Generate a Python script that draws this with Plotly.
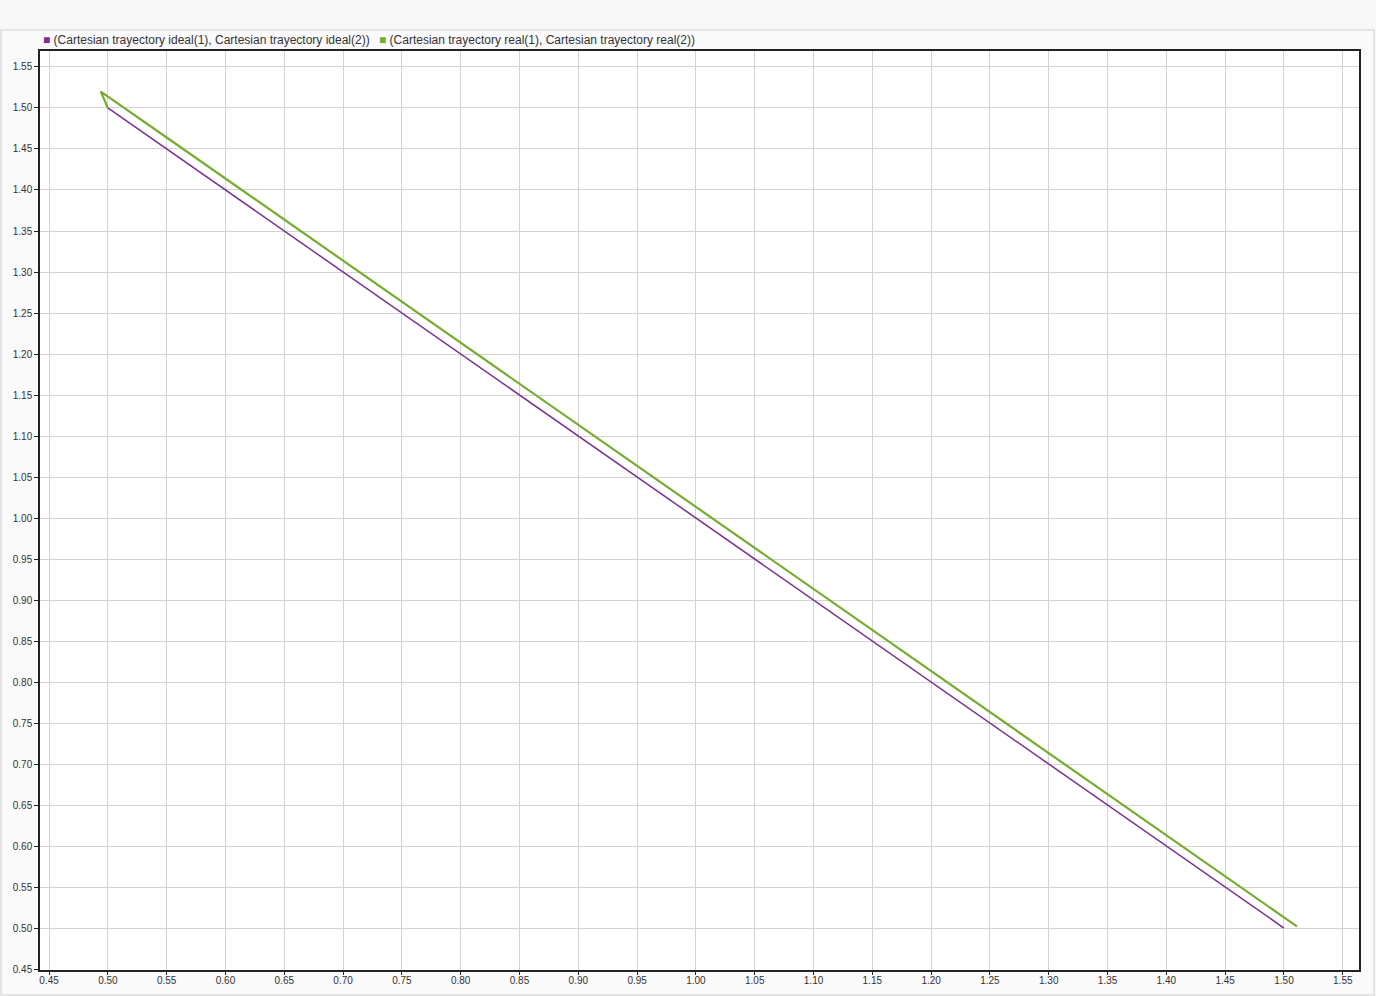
import plotly.graph_objects as go

# Ideal Cartesian trajectory
ideal_x = [0.500, 1.500]
ideal_y = [1.500, 0.500]

# Real Cartesian trajectory
real_x = [0.500, 0.494, 0.550, 0.600, 0.650, 0.700, 0.750, 0.800, 0.850, 0.900,
          0.950, 1.000, 1.050, 1.100, 1.150, 1.200, 1.250, 1.300, 1.350, 1.400,
          1.450, 1.500, 1.511]
real_y = [1.500, 1.520, 1.464, 1.414, 1.364, 1.314, 1.264, 1.214, 1.163, 1.113,
          1.063, 1.013, 0.963, 0.913, 0.863, 0.813, 0.763, 0.713, 0.663, 0.613,
          0.563, 0.513, 0.502]

ideal_name = "(Cartesian trayectory ideal(1), Cartesian trayectory ideal(2))"
real_name = "(Cartesian trayectory real(1), Cartesian trayectory real(2))"
PURPLE = "#7e2f8e"
GREEN = "#77ac30"

fig = go.Figure()
fig.add_trace(go.Scatter(x=ideal_x, y=ideal_y, mode="lines", name=ideal_name,
                         line=dict(color=PURPLE, width=1.5), showlegend=False))
fig.add_trace(go.Scatter(x=real_x, y=real_y, mode="lines", name=real_name,
                         line=dict(color=GREEN, width=2.2), showlegend=False))

W, H = 1376, 996
L, R, T, B = 40, 17, 51, 26
pw, ph = W - L - R, H - T - B

def px_x(p):
    return (p - L) / pw

def px_y(p):
    return (H - B - p) / ph

# panel background and border
fig.add_shape(type="rect", xref="paper", yref="paper", layer="below",
              x0=px_x(1), x1=px_x(1374), y0=px_y(995), y1=px_y(30),
              fillcolor="#fafafa", line=dict(color="#e4e4e4", width=2))
# white plotting area
fig.add_shape(type="rect", xref="paper", yref="paper", layer="below",
              x0=0, x1=1, y0=0, y1=1, fillcolor="white", line=dict(width=0))

# legend built as text
legend_font = dict(family="Liberation Sans, Arial", size=12, color="#333")
fig.add_annotation(xref="paper", yref="paper", x=px_x(41), y=px_y(40),
                   xanchor="left", yanchor="middle", showarrow=False,
                   text=f'<span style="color:{PURPLE}">■</span> {ideal_name}',
                   font=legend_font)
fig.add_annotation(xref="paper", yref="paper", x=px_x(377), y=px_y(40),
                   xanchor="left", yanchor="middle", showarrow=False,
                   text=f'<span style="color:{GREEN}">■</span> {real_name}',
                   font=legend_font)

axis_common = dict(showgrid=True, gridcolor="#d3d3d3", gridwidth=1,
                   showline=True, linecolor="#222", linewidth=1.5,
                   ticks="outside", tickcolor="#222",
                   tickformat=".2f", dtick=0.05, zeroline=False, automargin=False,
                   tickfont=dict(family="Liberation Sans, Arial", size=10, color="#333"))

fig.update_layout(
    width=W, height=H,
    margin=dict(l=L, r=R, t=T, b=B, pad=0),
    paper_bgcolor="#f8f8f8", plot_bgcolor="white",
    xaxis=dict(range=[0.4423, 1.5638], tick0=0.45, mirror=True, ticklen=3,
               ticklabelstandoff=-3, **axis_common),
    yaxis=dict(range=[0.4488, 1.5695], tick0=0.45, mirror=True, ticklen=4,
               **axis_common),
    showlegend=False,
    font=dict(family="Liberation Sans, Arial"),
)

fig.write_html("out.html", config={"displayModeBar": False},
               post_script="document.body.style.margin='0';document.body.style.overflow='hidden';")
